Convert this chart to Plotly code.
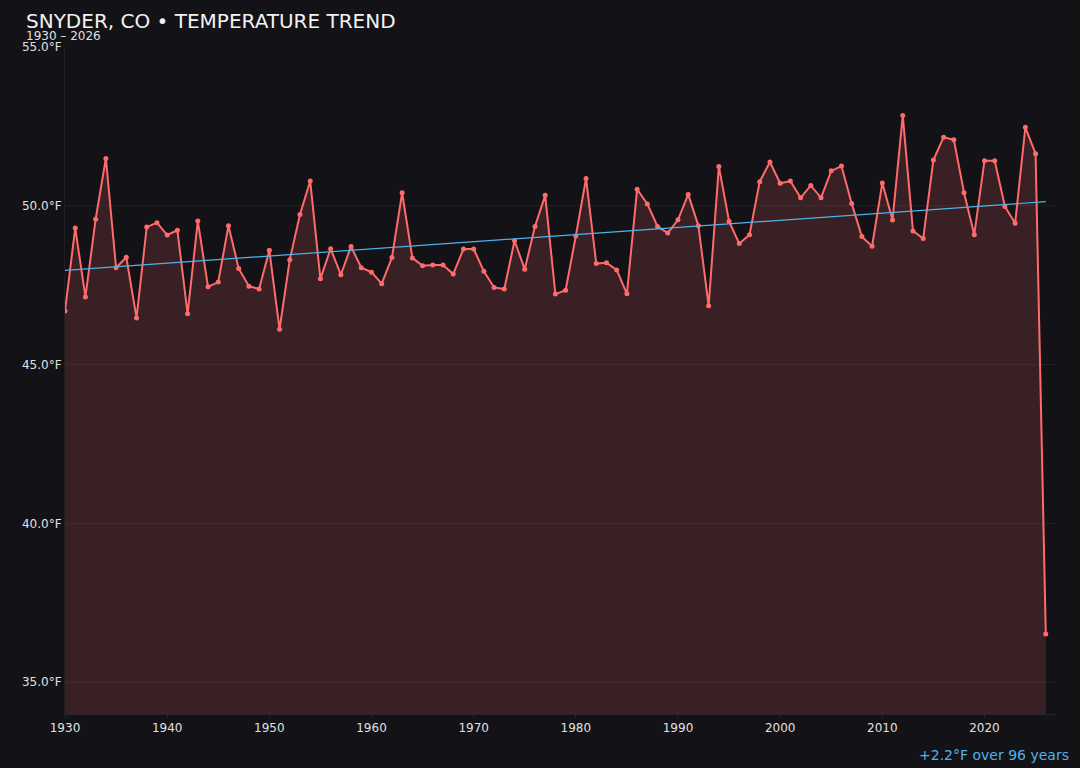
import numpy as np
import plotly.graph_objects as go

years = list(range(1930, 2027))
temps = [
    46.69, 49.30, 47.13, 49.58, 51.49, 48.05, 48.38, 46.47, 49.33, 49.47,
    49.08, 49.23, 46.60, 49.52, 47.45, 47.60, 49.37, 48.03, 47.47, 47.38,
    48.60, 46.11, 48.30, 49.73, 50.78, 47.70, 48.65, 47.83, 48.72, 48.05,
    47.91, 47.55, 48.37, 50.41, 48.36, 48.11, 48.14, 48.14, 47.85, 48.64,
    48.64, 47.94, 47.43, 47.38, 48.90, 48.00, 49.35, 50.33, 47.22, 47.34,
    49.05, 50.86, 48.18, 48.21, 47.98, 47.23, 50.52, 50.06, 49.35, 49.14,
    49.56, 50.36, 49.37, 46.85, 51.24, 49.51, 48.81, 49.09, 50.76, 51.38,
    50.71, 50.78, 50.25, 50.64, 50.25, 51.10, 51.25, 50.07, 49.03, 48.73,
    50.72, 49.55, 52.84, 49.21, 48.97, 51.44, 52.16, 52.08, 50.41, 49.09,
    51.42, 51.42, 49.98, 49.45, 52.47, 51.64, 36.52,
]
y_ticks = [35, 40, 45, 50, 55]
x_ticks = [1930, 1940, 1950, 1960, 1970, 1980, 1990, 2000, 2010, 2020]

bg = '#131217'
grid = '#1f1e24'
line_color = '#ff6b6b'
trend_color = '#4fb3e8'
font_family = 'DejaVu Sans'

# least-squares trend over the whole record
slope, icpt = np.polyfit(years, temps, 1)
trend = [slope * yr + icpt for yr in years]

fig = go.Figure()
fig.add_trace(go.Scatter(
    x=years, y=temps, mode='lines+markers', fill='tozeroy',
    fillcolor='rgba(255,107,107,0.16)',
    line=dict(color=line_color, width=2),
    marker=dict(color=line_color, size=5),
    name='Annual mean', showlegend=False,
))
fig.add_trace(go.Scatter(
    x=years, y=trend, mode='lines',
    line=dict(color=trend_color, width=1.2),
    name='Trend', showlegend=False,
))

fig.update_layout(
    width=1080, height=768,
    plot_bgcolor=bg, paper_bgcolor=bg,
    margin=dict(l=65, r=24, t=47, b=54),
    font=dict(family=font_family, color='#e0e0e0', size=12),
)
fig.update_xaxes(
    range=[1930, 2027], tickvals=x_ticks, ticktext=[str(t) for t in x_ticks],
    showgrid=False, zeroline=False, showline=True, linecolor='#26252b',
    ticks='outside', ticklen=3, tickcolor='#26252b',
    tickfont=dict(size=12, color='#e0e0e0'),
)
fig.update_yaxes(
    range=[34, 55], tickvals=y_ticks, ticktext=[f'{t:.1f}°F' for t in y_ticks],
    gridcolor=grid, zeroline=False, showline=True, linecolor='#1f1e24',
    tickfont=dict(size=12, color='#e0e0e0'),
)

fig.add_annotation(
    text='SNYDER, CO • TEMPERATURE TREND', xref='paper', yref='paper',
    x=-0.041, y=1.0, xanchor='left', yanchor='bottom', yshift=12,
    showarrow=False, font=dict(size=20, color='#f2f2f2', family=font_family),
)
fig.add_annotation(
    text='1930 – 2026', xref='paper', yref='paper',
    x=-0.041, y=1.0, xanchor='left', yanchor='bottom', yshift=2,
    showarrow=False, font=dict(size=12, color='#e0e0e0', family=font_family),
)
fig.add_annotation(
    text='+2.2°F over 96 years', xref='paper', yref='paper',
    x=1.015, y=0, xanchor='right', yanchor='top', yshift=-31,
    showarrow=False, font=dict(size=14, color=trend_color, family=font_family),
)

fig.write_html(
    'out.html',
    config={'displayModeBar': False},
    post_script="document.body.style.margin='0';document.body.style.background='#131217';",
)
